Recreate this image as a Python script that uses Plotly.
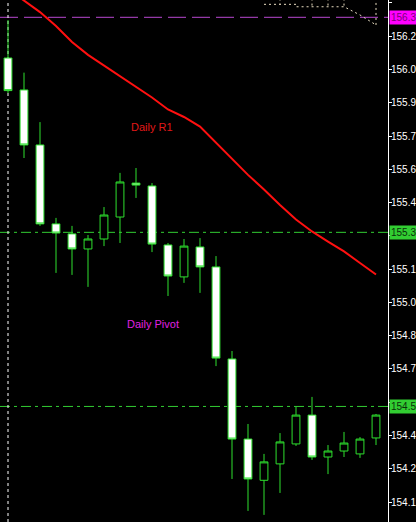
import plotly.graph_objects as go

# ---- data ----
idx = list(range(24))
opens  = [156.102, 155.958, 155.710, 155.354, 155.309, 155.241, 155.286, 155.385, 155.538, 155.525,
          155.259, 155.115, 155.250, 155.160, 154.745, 154.384, 154.198, 154.272, 154.362, 154.492,
          154.303, 154.330, 154.317, 154.389]
highs  = [156.273, 156.036, 155.813, 155.381, 155.345, 155.304, 155.430, 155.584, 155.606, 155.538,
          155.268, 155.286, 155.290, 155.209, 154.781, 154.452, 154.317, 154.411, 154.529, 154.574,
          154.357, 154.416, 154.393, 154.497]
lows   = [155.944, 155.651, 155.345, 155.133, 155.124, 155.070, 155.254, 155.268, 155.471, 155.227,
          155.029, 155.088, 155.043, 154.713, 154.204, 154.060, 154.042, 154.141, 154.353, 154.290,
          154.226, 154.303, 154.299, 154.357]
closes = [155.955, 155.710, 155.354, 155.313, 155.241, 155.286, 155.394, 155.543, 155.529, 155.263,
          155.119, 155.254, 155.160, 154.749, 154.384, 154.204, 154.281, 154.371, 154.492, 154.303,
          154.330, 154.366, 154.384, 154.492]
ma = [156.413, 156.361, 156.309, 156.246, 156.174, 156.116, 156.068, 156.021, 155.976, 155.924,
      155.870, 155.836, 155.793, 155.720, 155.648, 155.575, 155.509, 155.439, 155.374, 155.320,
      155.274, 155.230, 155.178, 155.126]

pivot_level = 156.2855
green_levels = [155.316, 154.531]
level_labels = {"pivot": "156.3", "green": ["155.3", "154.5"]}

env_x = [16, 18, 18, 21, 22, 23, None, 23, 23, None, 17, 17, None, 19, 19, None, 20, 20, None, 21, 21]
env_y = [156.344, 156.344, 156.333, 156.333, 156.296, 156.251, None, 156.251, 156.37, None,
         156.37, 156.344, None, 156.37, 156.333, None, 156.37, 156.333, None, 156.37, 156.333]

tick_vals = [156.35, 156.20, 156.05, 155.90, 155.75, 155.60, 155.45, 155.30, 155.15, 155.00,
             154.85, 154.70, 154.55, 154.40, 154.25, 154.10]
tick_text = ["156.3", "156.2", "156.0", "155.9", "155.7", "155.6", "155.4", "", "155.1", "155.0",
             "154.8", "154.7", "", "154.4", "154.2", "154.1"]

text_labels = [("Daily R1", 9.03, 155.791, "#e01818"), ("Daily Pivot", 9.06, 154.903, "#e020e0")]

separator_x = 0
y_range = [154.010, 156.3635]
x_range = [-0.5, 23.75]

GREEN = "#2ee02e"
LIME_BOX = "#32cd32"
FONT = "Liberation Sans"

fig = go.Figure()

fig.add_trace(go.Scatter(x=env_x, y=env_y, mode="lines",
                         line=dict(color="#e8dcc0", width=1, dash="2px,3px"),
                         hoverinfo="skip", showlegend=False))

fig.add_trace(go.Candlestick(
    x=idx, open=opens, high=highs, low=lows, close=closes,
    increasing=dict(line=dict(color=GREEN, width=1), fillcolor="black"),
    decreasing=dict(line=dict(color=GREEN, width=1), fillcolor="white"),
    whiskerwidth=0, showlegend=False))

fig.add_trace(go.Scatter(x=idx, y=ma, mode="lines",
                         line=dict(color="#ff1010", width=2),
                         hoverinfo="skip", showlegend=False))

shapes = []
shapes.append(dict(type="line", xref="paper", x0=0, x1=1, yref="y", y0=pivot_level, y1=pivot_level,
                   line=dict(color="#b848d0", width=1, dash="18px,6px"), layer="below"))
for lv in green_levels:
    shapes.append(dict(type="line", xref="paper", x0=0, x1=1, yref="y", y0=lv, y1=lv,
                       line=dict(color=LIME_BOX, width=1, dash="10px,4px,3px,4px"), layer="below"))
shapes.append(dict(type="line", xref="x", x0=separator_x, x1=separator_x, yref="paper", y0=0, y1=1,
                   line=dict(color="white", width=1, dash="3px,3px"), layer="below"))

annotations = []
for txt, xx, yy, col in text_labels:
    annotations.append(dict(x=xx, y=yy, xref="x", yref="y", text=txt, showarrow=False,
                            font=dict(family=FONT, size=11, color=col)))
annotations.append(dict(x=1, xref="paper", xanchor="left", xshift=1, y=pivot_level, yref="y",
                        text=level_labels["pivot"], showarrow=False, bgcolor="#ff00ff",
                        borderpad=1, font=dict(family=FONT, size=10, color="#7a007a")))
for lv, t in zip(green_levels, level_labels["green"]):
    annotations.append(dict(x=1, xref="paper", xanchor="left", xshift=1, y=lv, yref="y",
                            text=t, showarrow=False, bgcolor=LIME_BOX,
                            borderpad=1, font=dict(family=FONT, size=10, color="#0a300a")))

fig.update_layout(
    width=416, height=522,
    margin=dict(l=0, r=28, t=0, b=0, pad=0, autoexpand=False),
    paper_bgcolor="black", plot_bgcolor="black",
    shapes=shapes, annotations=annotations,
    xaxis=dict(range=x_range, visible=False, rangeslider=dict(visible=False), fixedrange=True),
    yaxis=dict(range=y_range, side="right", tickvals=tick_vals, ticktext=tick_text,
               ticks="outside", ticklen=3, tickcolor="white", showline=True, linecolor="white",
               linewidth=1, showgrid=False, zeroline=False, automargin=False,
               ticklabelstandoff=-3,
               tickfont=dict(family=FONT, size=10, color="white")),
    showlegend=False,
)

fig.write_html("out.html", config={"displayModeBar": False},
               post_script="document.body.style.margin='0';document.body.style.background='black';")
